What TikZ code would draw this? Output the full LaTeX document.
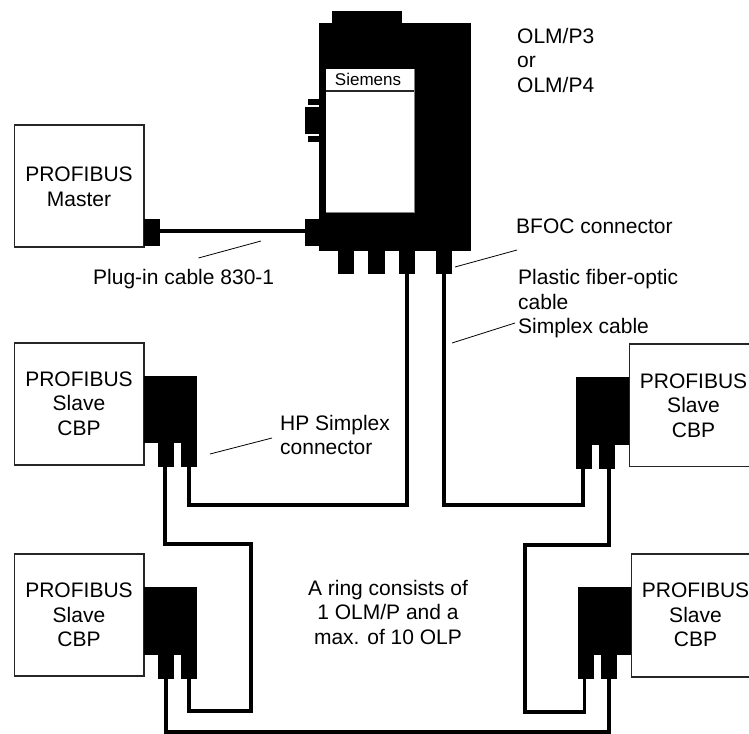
\documentclass[tikz,border=0pt]{standalone}
\usepackage{fontspec}
\setmainfont{Liberation Sans}
\tikzset{
 blk/.style={fill=black,draw=none,inner sep=0,outer sep=0,anchor=north west},
 devbox/.style={draw=black!85,line width=1.3pt,fill=white,inner sep=0,outer sep=0,anchor=north west},
 winbox/.style={draw=none,fill=white,inner sep=0,outer sep=0,anchor=north west},
 cable/.style={line width=3.4pt,line join=miter,draw=black},
 plugcable/.style={line width=4.2pt,draw=black},
 leader/.style={line width=0.8pt,draw=black},
 lbl/.style={font=\fontsize{21}{24.5}\selectfont,align=center,inner sep=0},
 txt/.style={font=\fontsize{21}{24.5}\selectfont,align=left,inner sep=0,anchor=west}
}
\newcommand\blk[5]{\pgfmathsetmacro\wv{#4-#2}\pgfmathsetmacro\hv{#5-#3}\node[blk,minimum width=\wv pt,minimum height=\hv pt] (#1) at (#2,#3) {};}
\newcommand\dbox[5]{\pgfmathsetmacro\wv{#4-#2}\pgfmathsetmacro\hv{#5-#3}\node[devbox,minimum width=\wv pt,minimum height=\hv pt] (#1) at (#2,#3) {};}
\begin{document}
\begin{tikzpicture}[x=1pt,y=-1pt]
\path[use as bounding box] (0,0) rectangle (749,733);
\clip (0,0) rectangle (749,733);
% boxes
\dbox{master}{14.5}{125}{144}{247}
\dbox{sa}{14.5}{343}{144}{465}
\dbox{sb}{14.5}{554}{144}{676}
\dbox{sc}{629.5}{344}{760}{466.5}
\dbox{sd}{631.5}{554}{760}{677}
\node[lbl] (tm) at (79,187) {PROFIBUS\\Master};
\node[lbl] (ta) at (79,403.5) {PROFIBUS\\Slave\\CBP};
\node[lbl] (tb) at (79,615) {PROFIBUS\\Slave\\CBP};
\node[lbl] (tc) at (693.5,405.5) {PROFIBUS\\Slave\\CBP};
\node[lbl] (td) at (695.5,615) {PROFIBUS\\Slave\\CBP};
% OLM
\blk{body}{319}{23}{471}{251}
\blk{bump}{332}{11}{402}{23}
\blk{sideup}{308}{99}{319}{105.5}
\blk{sidemid}{305}{107}{319}{134}
\blk{sidelo}{308}{135.5}{319}{142}
\blk{port}{305}{219}{319}{246}
\blk{fa}{338}{251}{354}{274}
\blk{fb}{368}{251}{385}{274}
\blk{fc}{399}{251}{415}{274}
\blk{fd}{436}{251}{452}{274}
\node[winbox,minimum width=88pt,minimum height=143pt] (win) at (326,69) {};
\node[inner sep=0] (siem) at (368,79.5) {\fontsize{17}{20}\selectfont Siemens};
\draw[line width=1.2pt,black!85] (win.west |- 0,91) -- (win.east |- 0,91);
\draw[line width=1pt,black!50] (win.north east) -- (win.south east) -- (win.south west);
% master plug
\blk{plug}{144}{219}{160}{246}
\draw[plugcable] ([yshift=1.5pt]plug.east) -- ([yshift=1.5pt]port.west);
% connectors slave
\blk{ca}{144}{376}{197}{443}
\blk{caf}{158}{443}{174}{467}
\blk{cag}{181}{443}{197}{467}
\blk{cb}{144}{587}{197}{655}
\blk{cbf}{158}{655}{174}{679}
\blk{cbg}{181}{655}{197}{679}
\blk{cc}{576}{377}{629}{445}
\blk{ccf}{576}{445}{592}{469}
\blk{ccg}{599}{445}{615}{469}
\blk{cd}{578}{587}{631}{655}
\blk{cdf}{578}{655}{594}{679}
\blk{cdg}{601}{655}{617}{679}
% cables
\draw[cable] (fc.south) -- (fc.south |- 0,505) -| (cag.south);
\draw[cable] (fd.south) -- (fd.south |- 0,505) -| ([xshift=-1pt]ccf.south);
\draw[cable] ([xshift=-1pt]caf.south) -- ([xshift=-1pt]caf.south |- 0,544) -| (251,711) -| (cbg.south);
\draw[cable] ([xshift=2pt]ccg.south) -- ([xshift=2pt]ccg.south |- 0,545) -| (525,712) -| ([xshift=-1.5pt]cdf.south);
\draw[cable] (cbf.south) -- (cbf.south |- 0,732) -| (cdg.south);
% leaders
\coordinate (l1a) at (198.5,258); \coordinate (l1b) at (261,241);
\draw[leader] (l1a) -- (l1b);
\coordinate (l2a) at (455,267); \coordinate (l2b) at (517,250);
\draw[leader] (l2a) -- (l2b);
\coordinate (l3a) at (452,343); \coordinate (l3b) at (515,323);
\draw[leader] (l3a) -- (l3b);
\coordinate (l4a) at (210,454); \coordinate (l4b) at (272,438);
\draw[leader] (l4a) -- (l4b);
% labels
\node[txt] (t1) at (517,60) {OLM/P3\\or\\OLM/P4};
\node[txt] (t2) at (516,226) {BFOC connector};
\node[txt] (t3) at (518,304) {Plastic fiber-optic\\cable\\Simplex cable};
\node[txt] (t4) at (93,279) {Plug-in cable 830-1};
\node[txt] (t5) at (280,435) {HP Simplex\\connector};
\node[lbl] (t6) at (388,612) {A ring consists of\\1 OLM/P and a\\max. of 10 OLP};
\end{tikzpicture}
\end{document}
